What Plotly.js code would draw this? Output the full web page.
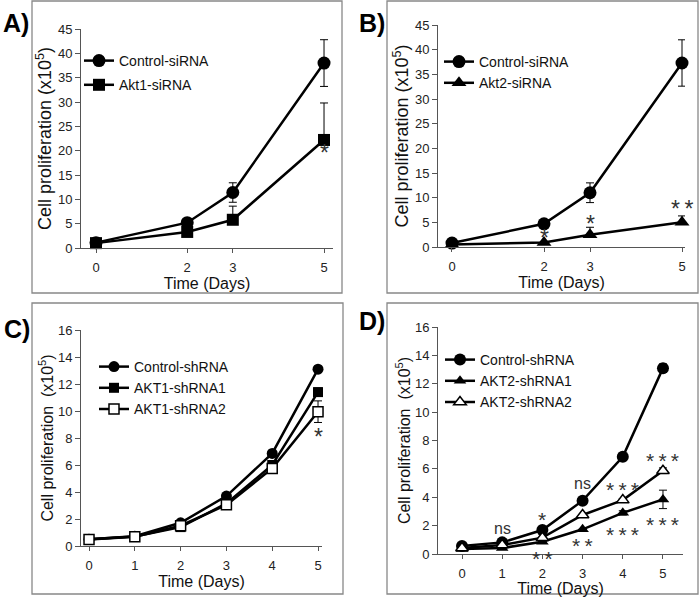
<!DOCTYPE html>
<html>
<head>
<meta charset="utf-8">
<script src="https://cdn.plot.ly/plotly-3.0.1.min.js"></script>
<style>html,body{margin:0;padding:0;background:#fff;}#chart{width:700px;height:597px;}</style>
</head>
<body>
<div id="chart"></div>
<script>
// ---------------- DATA ----------------
const daysAB = [0, 2, 3, 5];
const daysCD = [0, 1, 2, 3, 4, 5];

// Panel A
const A_names = ["Control-siRNA", "Akt1-siRNA"];
const A_control = [1.1, 5.2, 11.4, 38.0];
const A_controlErr = [0, 0.3, 2.0, 4.8];
const A_akt1 = [1.0, 3.3, 5.8, 22.2];
const A_akt1ErrPlus = [0, 0.3, 2.8, 7.6];
const A_sigX = [5];
const A_sigY = [20.7];
const A_sigText = ["*"];

// Panel B
const B_names = ["Control-siRNA", "Akt2-siRNA"];
const B_control = [0.8, 4.7, 11.0, 37.3];
const B_controlErr = [0, 0.3, 2.0, 4.7];
const B_akt2 = [0.5, 0.9, 2.5, 5.0];
const B_akt2ErrPlus = [0, 0, 1.5, 1.3];
const B_sigX = [2, 3, 5];
const B_sigY = [3.0, 5.9, 9.0];
const B_sigText = ["*", "*", "*\u2009*"];

// Panel C
const C_names = ["Control-shRNA", "AKT1-shRNA1", "AKT1-shRNA2"];
const C_control = [0.5, 0.72, 1.72, 3.7, 6.86, 13.1];
const C_controlErr = [0, 0, 0, 0, 0.2, 0.1];
const C_sh1 = [0.5, 0.7, 1.4, 3.15, 6.0, 11.4];
const C_sh1Err = [0, 0, 0, 0, 0.1, 0.3];
const C_sh2 = [0.48, 0.68, 1.5, 3.05, 5.75, 9.95];
const C_sh2Err = [0, 0, 0, 0, 0.2, 0.8];
const C_sigX = [5];
const C_sigY = [8.5];
const C_sigText = ["*"];

// Panel D
const D_names = ["Control-shRNA", "AKT2-shRNA1", "AKT2-shRNA2"];
const D_control = [0.56, 0.82, 1.69, 3.76, 6.85, 13.1];
const D_controlErr = [0, 0, 0, 0, 0, 0.3];
const D_sh1 = [0.35, 0.42, 0.87, 1.74, 2.9, 3.85];
const D_sh1Err = [0, 0, 0, 0, 0.15, 0.65];
const D_sh2 = [0.42, 0.63, 1.15, 2.75, 3.8, 5.87];
const D_sh2Err = [0, 0, 0, 0, 0.1, 0.2];
const D_starX = [2, 2, 3, 4, 4, 5, 5];
const D_starY = [2.86, 0.1, 1.0, 5.0, 1.8, 7.0, 2.5];
const D_starText = ["*", "*\u2009*", "*\u2009*", "*\u2009*\u2009*", "*\u2009*\u2009*", "*\u2009*\u2009*", "*\u2009*\u2009*"];
const D_nsX = [1, 3];
const D_nsY = [1.8, 5.0];
const D_nsText = ["ns", "ns"];

const panelLabels = ["A)", "B)", "C)", "D)"];

// ---------------- HELPERS ----------------
const W = 700, H = 597;
const px = v => v / W;
const py = v => 1 - v / H;
const FONT = "Liberation Sans, Arial, sans-serif";

function errBar(arr, minus) {
  return {type: "data", array: arr, arrayminus: minus || arr, symmetric: false,
          color: "#000", thickness: 1, width: 4, visible: true};
}
function line(xs, ys, name, sym, size, n, err, fillWhite, group) {
  return {
    x: xs, y: ys, name: name, type: "scatter", mode: "lines+markers",
    xaxis: n === 1 ? "x" : "x" + n, yaxis: n === 1 ? "y" : "y" + n,
    legend: n === 1 ? "legend" : "legend" + n, legendgroup: group, cliponaxis: false,
    line: {color: "#000", width: 2.5},
    marker: {symbol: sym, size: size, color: fillWhite ? "#fff" : "#000",
             line: {color: "#000", width: fillWhite ? 1.5 : 0}},
    error_y: err
  };
}
// significance marks as data-referenced annotations
function marks(xs, ys, txt, n, size, shift) {
  const xr = n === 1 ? "x" : "x" + n, yr = n === 1 ? "y" : "y" + n;
  return xs.map((x, i) => ({x: x, y: ys[i], text: txt[i], xref: xr, yref: yr,
    showarrow: false, xanchor: "center", yanchor: "middle", yshift: shift,
    font: {family: FONT, size: size, color: "#333"}}));
}

const traces = [
  line(daysAB, A_control, A_names[0], "circle", 13, 1, errBar(A_controlErr), false, "a1"),
  line(daysAB, A_akt1, A_names[1], "square", 12, 1, errBar(A_akt1ErrPlus, [0,0,0,0]), false, "a2"),

  line(daysAB, B_control, B_names[0], "circle", 13, 2, errBar(B_controlErr)),
  line(daysAB, B_akt2, B_names[1], "triangle-up", 13, 2, errBar(B_akt2ErrPlus, [0,0,0,0])),

  line(daysCD, C_control, C_names[0], "circle", 11, 3, errBar(C_controlErr)),
  line(daysCD, C_sh1, C_names[1], "square", 10, 3, errBar(C_sh1Err)),
  line(daysCD, C_sh2, C_names[2], "square", 10, 3, errBar(C_sh2Err), true),

  line(daysCD, D_control, D_names[0], "circle", 12, 4, errBar(D_controlErr)),
  line(daysCD, D_sh1, D_names[1], "triangle-up", 11, 4, errBar(D_sh1Err)),
  line(daysCD, D_sh2, D_names[2], "triangle-up", 11, 4, errBar(D_sh2Err), true)
];

function xax(anchor, dom, range, vals, standoff) {
  return {anchor: anchor, domain: [px(dom[0]), px(dom[1])], range: range,
          tickmode: "array", tickvals: vals, ticktext: vals.map(String),
          showgrid: false, zeroline: false, showline: true, linecolor: "#555", linewidth: 1,
          ticks: "outside", ticklen: 4, tickcolor: "#555", ticklabelstandoff: 3,
          tickfont: {family: FONT, size: 13, color: "#222"},
          title: {text: "Time (Days)", font: {family: FONT, size: 16, color: "#111"}, standoff: standoff},
          fixedrange: true};
}
function yax(anchor, dom, range, dtick, title, tsize, standoff) {
  return {anchor: anchor, domain: [py(dom[1]), py(dom[0])], range: range,
          tickmode: "linear", dtick: dtick, tick0: 0,
          showgrid: false, zeroline: false, showline: true, linecolor: "#555", linewidth: 1,
          ticks: "outside", ticklen: 5, tickcolor: "#555",
          tickfont: {family: FONT, size: 13, color: "#222"},
          title: {text: title, font: {family: FONT, size: tsize, color: "#111"}, standoff: standoff},
          fixedrange: true};
}
function leg(x, yTop, size, gap) {
  return {x: px(x), y: py(yTop), xanchor: "left", yanchor: "top", bgcolor: "rgba(0,0,0,0)",
          borderwidth: 0, font: {family: FONT, size: size, color: "#111"},
          traceorder: gap ? "grouped" : "normal", tracegroupgap: gap || 0};
}
function box(x0, y0, x1, y1) {
  return {type: "rect", xref: "paper", yref: "paper", x0: px(x0), x1: px(x1), y0: py(y1), y1: py(y0),
          line: {color: "#888", width: 1.3}, fillcolor: "rgba(0,0,0,0)", layer: "below"};
}
function lab(t, x, y) {
  return {text: "<b>" + t + "</b>", xref: "paper", yref: "paper", x: px(x), y: py(y),
          showarrow: false, xanchor: "center", yanchor: "middle",
          font: {family: FONT, size: 25, color: "#000"}};
}

const titleAB = "Cell proliferation (x10<sup>5</sup>)";
const titleCD = "Cell proliferation  (x10<sup>5</sup>)";

const annotations = [
  lab(panelLabels[0], 16, 23), lab(panelLabels[1], 372, 23),
  lab(panelLabels[2], 17, 329), lab(panelLabels[3], 372, 321)
].concat(
  marks(A_sigX, A_sigY, A_sigText, 1, 23, -6),
  marks(B_sigX, B_sigY, B_sigText, 2, 23, -6),
  marks(C_sigX, C_sigY, C_sigText, 3, 23, -6),
  marks(D_starX, D_starY, D_starText, 4, 21, -6),
  marks(D_nsX, D_nsY, D_nsText, 4, 16, 0)
);

const layout = {
  width: W, height: H, margin: {l: 0, r: 0, t: 0, b: 0},
  paper_bgcolor: "#fff", plot_bgcolor: "rgba(0,0,0,0)", showlegend: true,
  xaxis:  xax("y",  [81, 333], [-0.329, 5.197], daysAB, 3),
  yaxis:  yax("x",  [29, 248], [0, 45], 5, titleAB, 18, 1),
  xaxis2: xax("y2", [438, 685], [-0.304, 5.065], daysAB, 3),
  yaxis2: yax("x2", [25, 247], [0, 45], 5, titleAB, 18, 1),
  xaxis3: xax("y3", [81, 322], [-0.175, 5.087], daysCD, 1),
  yaxis3: yax("x3", [330, 546], [0, 16], 2, titleCD, 16, 0),
  xaxis4: xax("y4", [438, 683], [-0.597, 5.498], daysCD, 0),
  yaxis4: yax("x4", [327, 554], [0, 16], 2, titleCD, 16, 0),
  legend:  leg(79, 45, 14, 3),
  legend2: leg(439, 46, 14),
  legend3: leg(94, 351, 14),
  legend4: leg(440, 344, 14),
  shapes: [box(32, 1, 342, 293), box(387, 1, 698, 293), box(32, 303, 343, 594), box(387, 303, 698, 594)],
  annotations: annotations
};

Plotly.newPlot("chart", traces, layout, {staticPlot: true, displayModeBar: false});
</script>
</body>
</html>
